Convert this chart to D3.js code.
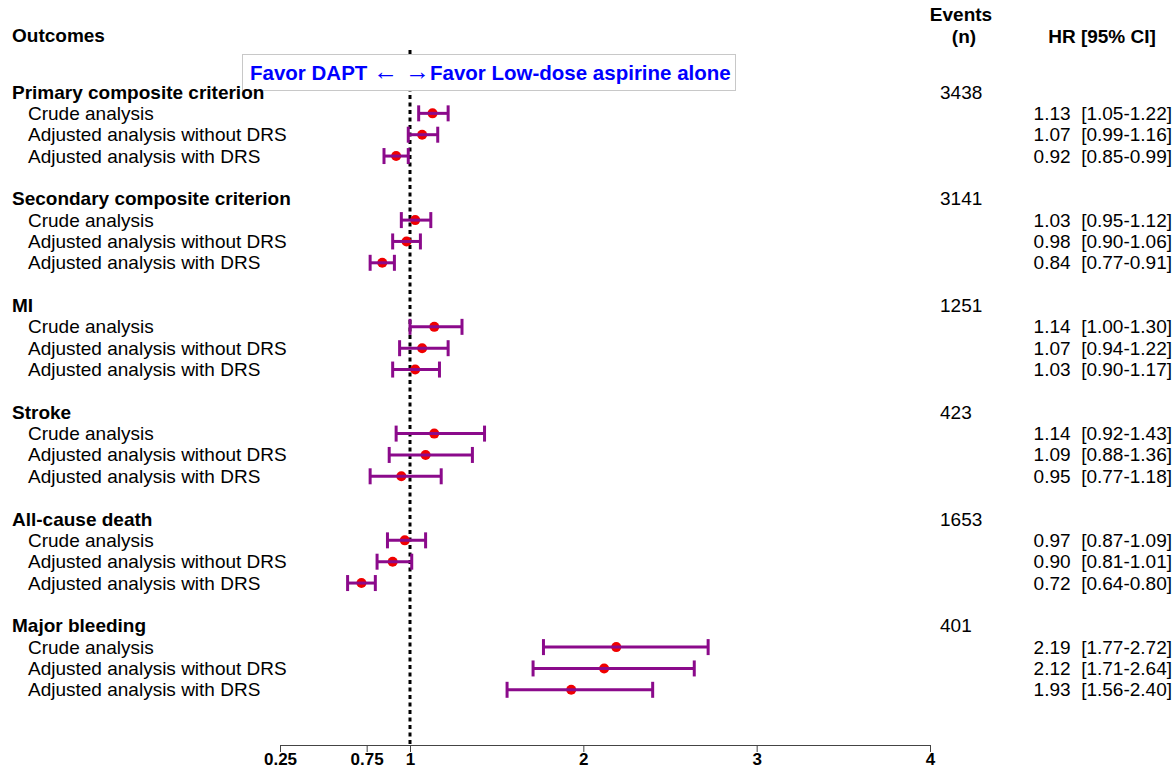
<!DOCTYPE html>
<html>
<head>
<meta charset="utf-8">
<script src="https://cdn.jsdelivr.net/npm/d3@7"></script>
<style>
  body { margin: 0; background: #fff; }
  svg { font-family: "Liberation Sans", Arial, sans-serif; }
</style>
</head>
<body>
<div id="chart"></div>
<script>
(function() {
  var groups = ["Primary composite criterion", "Secondary composite criterion", "MI", "Stroke", "All-cause death", "Major bleeding"]
  var events = [3438, 3141, 1251, 423, 1653, 401]
  var analyses = ["Crude analysis", "Adjusted analysis without DRS", "Adjusted analysis with DRS"]
  var hr = [[1.13, 1.07, 0.92], [1.03, 0.98, 0.84], [1.14, 1.07, 1.03], [1.14, 1.09, 0.95], [0.97, 0.90, 0.72], [2.19, 2.12, 1.93]]
  var lower = [[1.05, 0.99, 0.85], [0.95, 0.90, 0.77], [1.00, 0.94, 0.90], [0.92, 0.88, 0.77], [0.87, 0.81, 0.64], [1.77, 1.71, 1.56]]
  var upper = [[1.22, 1.16, 0.99], [1.12, 1.06, 0.91], [1.30, 1.22, 1.17], [1.43, 1.36, 1.18], [1.09, 1.01, 0.80], [2.72, 2.64, 2.40]]
  var tickValues = [0.25, 0.75, 1, 2, 3, 4]

  var width = 1176, height = 773
  var axisY = 745
  var fs = 19

  var x = d3.scaleLinear().domain([0.25, 4]).range([280, 930])
  // one row per line of text: group title, 3 analyses, blank
  var y = d3.scaleLinear().domain([0, 29]).range([92, 92 + 29 * 21.35])

  var svg = d3.select("#chart").append("svg")
    .attr("width", width)
    .attr("height", height)

  var rows = []
  groups.forEach(function(g, gi) {
    rows.push({type: "title", label: g, row: gi * 5, events: events[gi]})
    analyses.forEach(function(a, ai) {
      rows.push({type: "sub", label: a, row: gi * 5 + ai + 1,
        hr: hr[gi][ai], lo: lower[gi][ai], hi: upper[gi][ai]})
    })
  })

  // headers
  svg.append("text").attr("x", 12).attr("y", 35).attr("dominant-baseline", "central")
    .attr("font-size", fs).attr("font-weight", "bold").text("Outcomes")
  svg.append("text").attr("x", 961).attr("y", 14).attr("dominant-baseline", "central")
    .attr("text-anchor", "middle").attr("font-size", fs).attr("font-weight", "bold").text("Events")
  svg.append("text").attr("x", 964).attr("y", 36).attr("dominant-baseline", "central")
    .attr("text-anchor", "middle").attr("font-size", fs).attr("font-weight", "bold").text("(n)")
  svg.append("text").attr("x", 1102).attr("y", 36).attr("dominant-baseline", "central")
    .attr("text-anchor", "middle").attr("font-size", fs).attr("font-weight", "bold").text("HR [95% CI]")

  // reference line at 1
  svg.append("line")
    .attr("x1", x(1)).attr("x2", x(1))
    .attr("y1", 50).attr("y2", axisY)
    .attr("stroke", "#000").attr("stroke-width", 3)
    .attr("stroke-dasharray", "4,3.5")

  // legend box
  var leg = svg.append("g")
  leg.append("rect")
    .attr("x", 242.5).attr("y", 54.5).attr("width", 493).attr("height", 36)
    .attr("fill", "#fff").attr("stroke", "#c8c8c8")
  var lt = leg.append("text")
    .attr("x", 250).attr("y", 80)
    .attr("font-size", 20.5).attr("font-weight", "bold").attr("fill", "#0000ff")
    .attr("xml:space", "preserve")
  lt.append("tspan").text("Favor DAPT ")
  lt.append("tspan").attr("font-weight", "normal").attr("font-size", 25).text("\u2190 \u2192")
  lt.append("tspan").text("Favor Low-dose aspirine alone")

  // labels
  svg.append("g").selectAll("text")
    .data(rows)
    .enter().append("text")
    .attr("x", d => d.type == "title" ? 12 : 28)
    .attr("y", d => y(d.row))
    .attr("dominant-baseline", "central")
    .attr("font-size", fs)
    .attr("font-weight", d => d.type == "title" ? "bold" : "normal")
    .text(d => d.label)

  // events
  svg.append("g").selectAll("text")
    .data(rows.filter(d => d.type == "title"))
    .enter().append("text")
    .attr("x", 940)
    .attr("y", d => y(d.row))
    .attr("dominant-baseline", "central")
    .attr("font-size", fs)
    .text(d => d.events)

  // HR text
  svg.append("g").selectAll("text")
    .data(rows.filter(d => d.type == "sub"))
    .enter().append("text")
    .attr("x", 1172)
    .attr("y", d => y(d.row))
    .attr("dominant-baseline", "central")
    .attr("text-anchor", "end")
    .attr("font-size", fs)
    .attr("xml:space", "preserve")
    .text(d => d.hr.toFixed(2) + "  [" + d.lo.toFixed(2) + "-" + d.hi.toFixed(2) + "]")

  var subs = rows.filter(d => d.type == "sub")
  var purple = "#8b0a8b"

  // points
  svg.append("g").selectAll("circle")
    .data(subs)
    .enter().append("circle")
    .attr("cx", d => x(d.hr))
    .attr("cy", d => y(d.row))
    .attr("r", 5)
    .attr("fill", "#f00000")

  // CI bars
  var ci = svg.append("g").attr("stroke", purple).attr("stroke-width", 3)
  ci.selectAll(".ci")
    .data(subs)
    .enter().append("line")
    .attr("x1", d => x(d.lo)).attr("x2", d => x(d.hi))
    .attr("y1", d => y(d.row)).attr("y2", d => y(d.row))
  ci.selectAll(".capl")
    .data(subs)
    .enter().append("line")
    .attr("x1", d => x(d.lo)).attr("x2", d => x(d.lo))
    .attr("y1", d => y(d.row) - 8).attr("y2", d => y(d.row) + 8)
  ci.selectAll(".caph")
    .data(subs)
    .enter().append("line")
    .attr("x1", d => x(d.hi)).attr("x2", d => x(d.hi))
    .attr("y1", d => y(d.row) - 8).attr("y2", d => y(d.row) + 8)

  // axis
  var xAxis = d3.axisBottom(x).tickValues(tickValues).tickSize(7).tickSizeOuter(0)
    .tickFormat(d => String(d))
  var ax = svg.append("g")
    .attr("class", "axis axis-x")
    .attr("transform", "translate(0," + axisY + ")")
    .call(xAxis)
  ax.select(".domain").attr("stroke", "#444")
  ax.selectAll(".tick line").attr("stroke", "#444")
  ax.selectAll(".tick text")
    .attr("font-size", 17).attr("font-weight", "bold")
    .attr("font-family", "Liberation Sans, Arial, sans-serif")
    .attr("fill", "#000").attr("dy", "0.55em").attr("y", 11)
})()
</script>
</body>
</html>
